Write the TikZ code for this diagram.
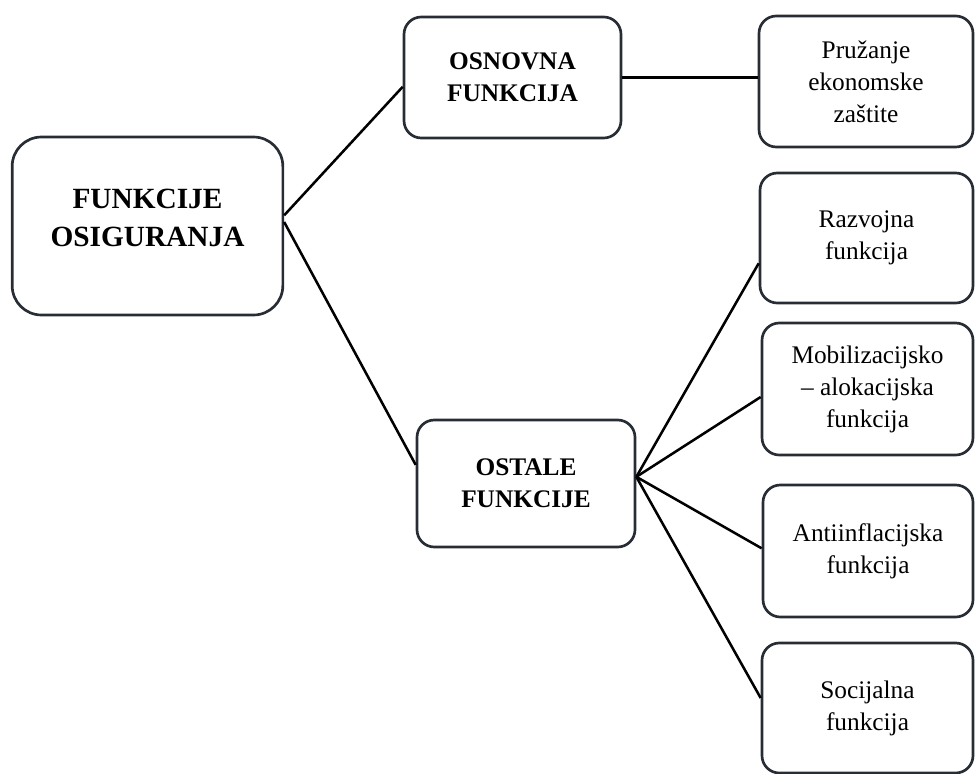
\documentclass[tikz,border=0pt]{standalone}
\usepackage{fontspec}
\setmainfont{Liberation Serif}
\usepackage{xcolor}
\usepackage{tikz}
\definecolor{boxline}{RGB}{40,44,52}

\begin{document}
\begin{tikzpicture}[x=0.75pt,y=-0.75pt,
        box/.style={draw=boxline,line width=2pt,rounded corners=13pt,inner sep=2pt,align=center,font=\fontsize{19}{24}\selectfont},
        head/.style={box,font=\fontsize{19}{24}\selectfont\bfseries},
        link/.style={line width=1.9pt,color=black}]
            \useasboundingbox (0,0) rectangle (975,774);
            \node[box,rounded corners=22pt,minimum width=203pt,minimum height=133.5pt,
                  label={[font=\fontsize{22}{28}\selectfont\bfseries,align=center,yshift=6pt]center:{FUNKCIJE\\OSIGURANJA}}] (osig) at (147.5,226) {};
            \node[head,minimum width=162.75pt,minimum height=90.75pt] (osnovna) at (512.5,77.5) {OSNOVNA\\FUNKCIJA};
            \node[head,minimum width=163.5pt,minimum height=95.25pt] (ostale) at (526,483.5) {OSTALE\\FUNKCIJE};
            \node[box,minimum width=160.5pt,minimum height=98.25pt] (pruzanje) at (866,81.5) {Pružanje\\ekonomske\\zaštite};
            \node[box,minimum width=159.75pt,minimum height=97.5pt] (razvojna) at (866.5,238) {Razvojna\\funkcija};
            \node[box,minimum width=158.25pt,minimum height=99pt] (mobil) at (867.5,389) {Mobilizacijsko\\– alokacijska\\funkcija};
            \node[box,minimum width=157.5pt,minimum height=99pt] (antiinf) at (868,551) {Antiinflacijska\\funkcija};
            \node[box,minimum width=158.25pt,minimum height=97.5pt] (socijalna) at (867.5,708) {Socijalna\\funkcija};
            %{connectors}
            \draw[link] ([yshift=8pt]osig.east) -- ([yshift=-7pt]osnovna.west);
            \draw[link] ([yshift=3pt]osig.east) -- ([yshift=14pt]ostale.west);
            \draw[link] (osnovna.east) -- (osnovna.east -| pruzanje.west);
            \foreach \n/\s in {razvojna/-19pt,mobil/-6pt,antiinf/2pt,socijalna/7.5pt}
                \draw[link] ([yshift=5pt]ostale.east) -- ([yshift=\s]\n.west);
        \end{tikzpicture}
\end{document}
